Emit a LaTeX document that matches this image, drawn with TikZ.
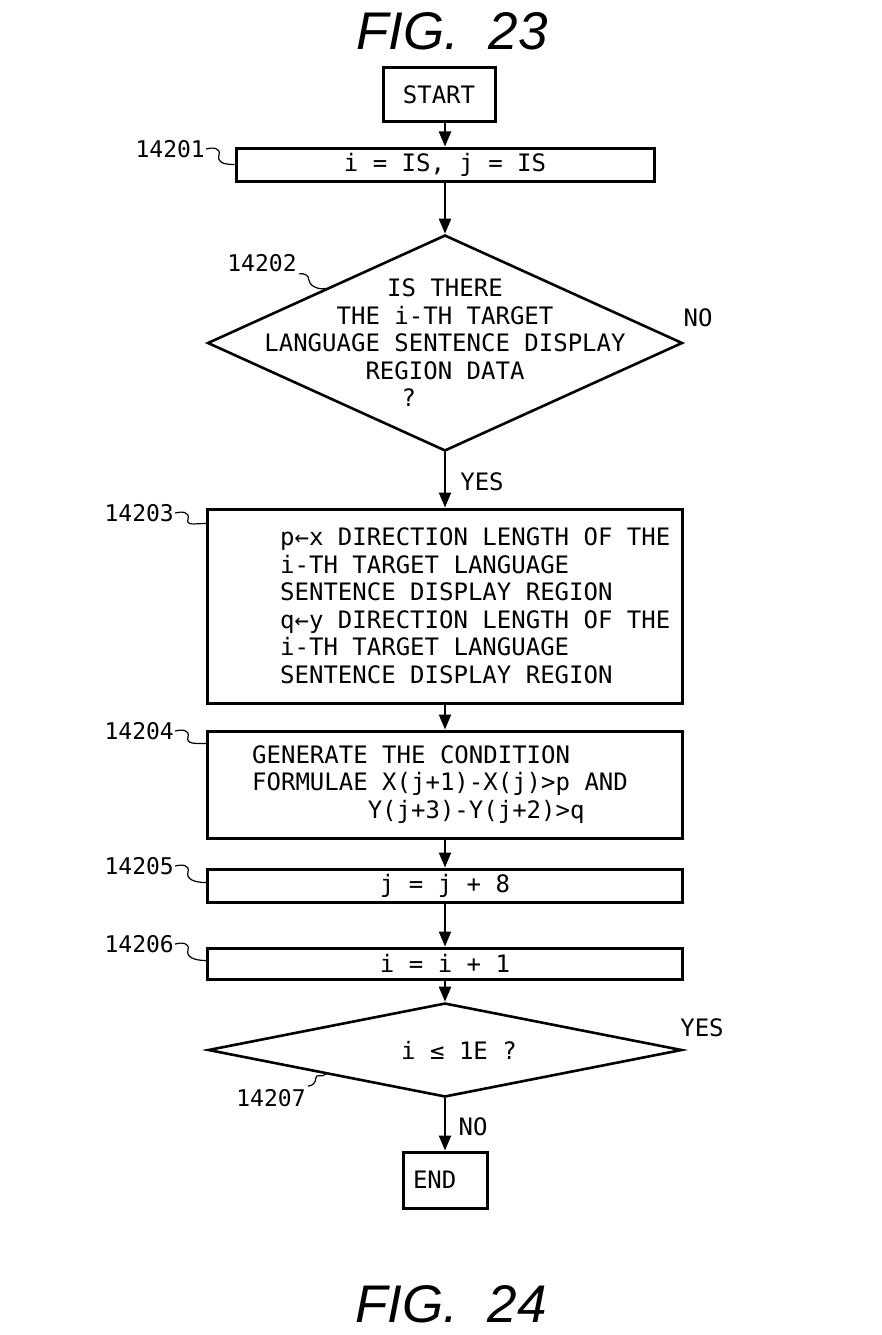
\documentclass[tikz,border=0pt]{standalone}
\usepackage{fontspec}
\setmainfont{DejaVu Sans Mono}
\newfontfamily\figfont{Liberation Sans}
\usetikzlibrary{shapes.geometric,arrows.meta}
\begin{document}
\begin{tikzpicture}[x=1pt,y=-1pt,
  every node/.style={font=\fontsize{24}{27.5}\selectfont},
  box/.style={draw, line width=3pt, minimum width=475pt, inner sep=0pt},
  decision/.style={draw, diamond, line width=2.6pt, inner sep=0pt},
  flow/.style={line width=2.2pt, -{Triangle[length=15pt,width=12pt]}},
  lead/.style={line width=1.2pt},
  refnum/.style={font=\fontsize{23}{23}\selectfont, inner sep=0pt},
  fig/.style={font=\figfont\itshape\fontsize{53}{53}\selectfont, inner sep=0pt, anchor=base},
  blab/.style={inner sep=0pt, align=left, anchor=west}
]
\useasboundingbox (0,0) rectangle (882,1335);
\fill[white] (0,0) rectangle (882,1335);

\node[fig] (f23) at (452,50) {FIG.\ \ 23};
\node[fig] (f24) at (451,1322) {FIG.\ \ 24};

% nodes
\node[box, minimum width=112pt, minimum height=54pt] (start) at (439,95) {START};
\node[box, minimum width=418pt, minimum height=33pt] (b1) at (445,164.5) {i = IS, j = IS};
\node[decision, minimum width=475pt, minimum height=216pt,
  label={[inner sep=0pt, align=center]center:{IS THERE\\THE i-TH TARGET\\LANGUAGE SENTENCE DISPLAY\\REGION DATA\\?\hphantom{XXXXX}}}] (d1) at (445,343) {};
\node[box, minimum height=194pt,
  label={[blab, xshift=74pt]west:{p←x DIRECTION LENGTH OF THE\\i-TH TARGET LANGUAGE\\SENTENCE DISPLAY REGION\\q←y DIRECTION LENGTH OF THE\\i-TH TARGET LANGUAGE\\SENTENCE DISPLAY REGION}}] (b3) at (445,606) {};
\node[box, minimum height=107pt,
  label={[blab, xshift=46pt]west:{GENERATE THE CONDITION\\FORMULAE X(j+1)-X(j)>p AND\\\hphantom{XXXXXXXX}Y(j+3)-Y(j+2)>q}}] (b4) at (445,784.5) {};
\node[box, minimum height=33pt] (b5) at (445,885.5) {j = j + 8};
\node[box, minimum height=31pt] (b6) at (445,963.5) {i = i + 1};
\node[decision, minimum width=474pt, minimum height=94pt,
  label={[inner sep=0pt, xshift=14pt]center:{i ≤ 1E ?}}] (d2) at (445,1050) {};
\node[box, minimum width=84pt, minimum height=56pt, text width=64pt, align=left, inner xsep=10pt] (stop) at (445,1180) {END};

% branch labels
\node (no1) at (698,318) {NO};
\node (yes1) at (482,482) {YES};
\node (yes2) at (702,1028) {YES};
\node (no2) at (473,1127) {NO};

% reference numerals
\node[refnum, anchor=east] (l1) at (205,149) {14201};
\node[refnum] (l2) at (262,263) {14202};
\node[refnum, anchor=east] (l3) at (174,513) {14203};
\node[refnum, anchor=east] (l4) at (174,731) {14204};
\node[refnum, anchor=east] (l5) at (174,866) {14205};
\node[refnum, anchor=east] (l6) at (174,944) {14206};
\node[refnum] (l7) at (271,1098) {14207};

% flow connectors
\draw[flow] (start.south -| b1.north) -- (b1.north);
\draw[flow] (b1.south) -- (d1.north);
\draw[flow] (d1.south) -- (b3.north);
\draw[flow] (b3.south) -- (b4.north);
\draw[flow] (b4.south) -- (b5.north);
\draw[flow] (b5.south) -- (b6.north);
\draw[flow] (b6.south) -- (d2.north);
\draw[flow] (d2.south) -- (stop.north);

% leader lines
\draw[lead] ([xshift=1pt]l1.east) .. controls +(7,-2) and +(2,-7) .. ++(13,6) .. controls +(-2,7) and +(-12,0) .. (b1.west);
\draw[lead] ([xshift=2pt,yshift=-2pt]l2.south east) .. controls +(5,-1) and +(0,-5) .. ++(10,6) .. controls +(0,5) and +(-8,2) .. (d1.north west);
\draw[lead] ([xshift=1pt]l3.east) .. controls +(7,-2) and +(2,-7) .. ++(13,6) .. controls +(-2,7) and +(-12,0) .. ([yshift=-16pt]b3.north west);
\draw[lead] ([xshift=1pt]l4.east) .. controls +(7,-2) and +(2,-7) .. ++(13,6) .. controls +(-2,7) and +(-12,0) .. ([yshift=-14pt]b4.north west);
\draw[lead] ([xshift=1pt]l5.east) .. controls +(7,-2) and +(2,-7) .. ++(13,6) .. controls +(-2,7) and +(-12,0) .. ([yshift=3pt]b5.west);
\draw[lead] ([xshift=1pt]l6.east) .. controls +(7,-2) and +(2,-7) .. ++(13,6) .. controls +(-2,7) and +(-12,0) .. ([yshift=3pt]b6.west);
\draw[lead] ([xshift=2pt,yshift=3pt]l7.north east) .. controls +(4,0) and +(0,5) .. ++(8,-8) .. controls +(0,-5) and +(-4,4) .. (d2.south west);
\end{tikzpicture}
\end{document}
